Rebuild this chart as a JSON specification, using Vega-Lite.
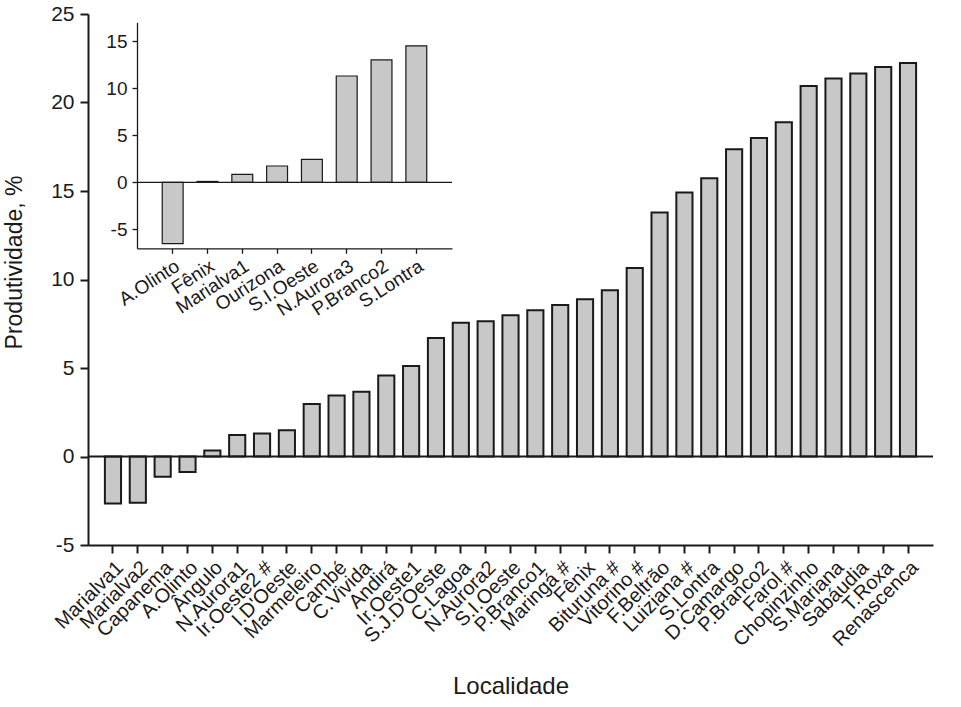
{
  "$schema": "https://vega.github.io/schema/vega-lite/v6.json",
  "autosize": {"type": "none"},
  "padding": {"left": 88, "top": 14, "right": 28, "bottom": 162},
  "width": 845,
  "height": 531,
  "background": "white",
  "config": {
    "view": {"stroke": null},
    "font": "Liberation Sans",
    "axis": {"grid": false, "labelColor": "#1a1a1a", "titleColor": "#1a1a1a", "domainColor": "#1a1a1a", "tickColor": "#1a1a1a", "titleFontWeight": "normal", "labelFont": "Liberation Sans", "titleFont": "Liberation Sans"}
  },
  "datasets": {
    "main": [
      {"localidade": "Marialva1", "produtividade": -2.66},
      {"localidade": "Marialva2", "produtividade": -2.62},
      {"localidade": "Capanema", "produtividade": -1.15},
      {"localidade": "A.Olinto", "produtividade": -0.87},
      {"localidade": "Ângulo", "produtividade": 0.34},
      {"localidade": "N.Aurora1", "produtividade": 1.21},
      {"localidade": "Ir.Oeste2 #", "produtividade": 1.3},
      {"localidade": "I.D'Oeste", "produtividade": 1.48},
      {"localidade": "Marmeleiro", "produtividade": 2.96},
      {"localidade": "Cambé", "produtividade": 3.45},
      {"localidade": "C.Vivida", "produtividade": 3.66},
      {"localidade": "Andirá", "produtividade": 4.58},
      {"localidade": "Ir.Oeste1", "produtividade": 5.12},
      {"localidade": "S.J.D'Oeste", "produtividade": 6.7},
      {"localidade": "C.Lagoa", "produtividade": 7.55},
      {"localidade": "N.Aurora2", "produtividade": 7.64},
      {"localidade": "S.I.Oeste", "produtividade": 7.98},
      {"localidade": "P.Branco1", "produtividade": 8.26},
      {"localidade": "Maringá #", "produtividade": 8.56},
      {"localidade": "Fênix", "produtividade": 8.88},
      {"localidade": "Bituruna #", "produtividade": 9.39},
      {"localidade": "Vitorino #", "produtividade": 10.65},
      {"localidade": "F.Beltrão", "produtividade": 13.78},
      {"localidade": "Luiziana #", "produtividade": 14.91},
      {"localidade": "S.Lontra", "produtividade": 15.72},
      {"localidade": "D.Camargo", "produtividade": 17.36},
      {"localidade": "P.Branco2", "produtividade": 17.99},
      {"localidade": "Farol #", "produtividade": 18.89},
      {"localidade": "Chopinzinho", "produtividade": 20.93},
      {"localidade": "S.Mariana", "produtividade": 21.36},
      {"localidade": "Sabáudia", "produtividade": 21.64},
      {"localidade": "T.Roxa", "produtividade": 22.0},
      {"localidade": "Renascenca", "produtividade": 22.23}
    ],
    "inset": [
      {"localidade": "A.Olinto", "produtividade": -6.5},
      {"localidade": "Fênix", "produtividade": 0.1},
      {"localidade": "Marialva1", "produtividade": 0.85},
      {"localidade": "Ourizona", "produtividade": 1.74},
      {"localidade": "S.I.Oeste", "produtividade": 2.45},
      {"localidade": "N.Aurora3", "produtividade": 11.3},
      {"localidade": "P.Branco2", "produtividade": 13.0},
      {"localidade": "S.Lontra", "produtividade": 14.5}
    ]
  },
  "layer": [
    {
      "data": {"name": "main"},
      "mark": {"type": "bar", "fill": "#c8c8c8", "stroke": "#1a1a1a", "strokeWidth": 2},
      "encoding": {
        "x": {
          "field": "localidade", "type": "nominal", "sort": null,
          "scale": {"paddingInner": 0.35, "paddingOuter": 0.68},
          "axis": {"title": "Localidade", "labelAngle": -45, "labelFontSize": 20, "tickSize": 8, "tickWidth": 2, "domainWidth": 2, "labelPadding": 4, "titleFontSize": 24, "titleY": 148, "titleBaseline": "alphabetic"}
        },
        "y": {
          "field": "produtividade", "type": "quantitative",
          "scale": {"domain": [-5, 25], "nice": false},
          "axis": {"title": "Produtividade, %", "values": [-5, 0, 5, 10, 15, 20, 25], "labelExpr": "replace(datum.label, '−', '-')", "labelFontSize": 21, "tickSize": 8, "tickWidth": 2, "domainWidth": 2, "labelPadding": 6, "titleFontSize": 23, "titleX": -62, "titleY": 248, "titleBaseline": "bottom", "titleAlign": "center", "titleAngle": -90}
        }
      }
    },
    {
      "data": {"values": [{}]},
      "mark": {"type": "rule", "stroke": "#1a1a1a", "strokeWidth": 2},
      "encoding": {
        "y": {"datum": 0, "type": "quantitative", "scale": {"domain": [-5, 25], "nice": false}, "axis": null}
      }
    },
    {
      "data": {"name": "inset"},
      "mark": {"type": "bar", "fill": "#c8c8c8", "stroke": "#1a1a1a", "strokeWidth": 1.2},
      "encoding": {
        "x": {
          "field": "localidade", "type": "nominal", "sort": null,
          "scale": {"range": [49, 364], "paddingInner": 0.4, "paddingOuter": 0.725},
          "axis": {"title": null, "orient": "bottom", "offset": -296.7, "labelAngle": -33, "labelFontSize": 19, "tickSize": 5, "tickWidth": 1.3, "domainWidth": 1.3, "labelPadding": 3}
        },
        "y": {
          "field": "produtividade", "type": "quantitative",
          "scale": {"domain": [-7, 17], "nice": false, "range": [234.3, 8.3]},
          "axis": {"title": null, "orient": "left", "offset": -49, "values": [-5, 0, 5, 10, 15], "labelExpr": "replace(datum.label, '−', '-')", "labelFontSize": 19, "tickSize": 5, "tickWidth": 1.3, "domainWidth": 1.3, "labelPadding": 5}
        }
      }
    },
    {
      "data": {"values": [{}]},
      "mark": {"type": "rule", "stroke": "#1a1a1a", "strokeWidth": 1.3},
      "encoding": {
        "x": {"datum": 0, "type": "quantitative", "scale": {"domain": [0, 1], "range": [49, 364], "nice": false, "zero": false}, "axis": null},
        "x2": {"datum": 1},
        "y": {"datum": 0, "type": "quantitative", "scale": {"domain": [-7, 17], "nice": false, "range": [234.3, 8.3]}, "axis": null}
      }
    }
  ],
  "resolve": {
    "scale": {"x": "independent", "y": "independent"},
    "axis": {"x": "independent", "y": "independent"}
  }
}
